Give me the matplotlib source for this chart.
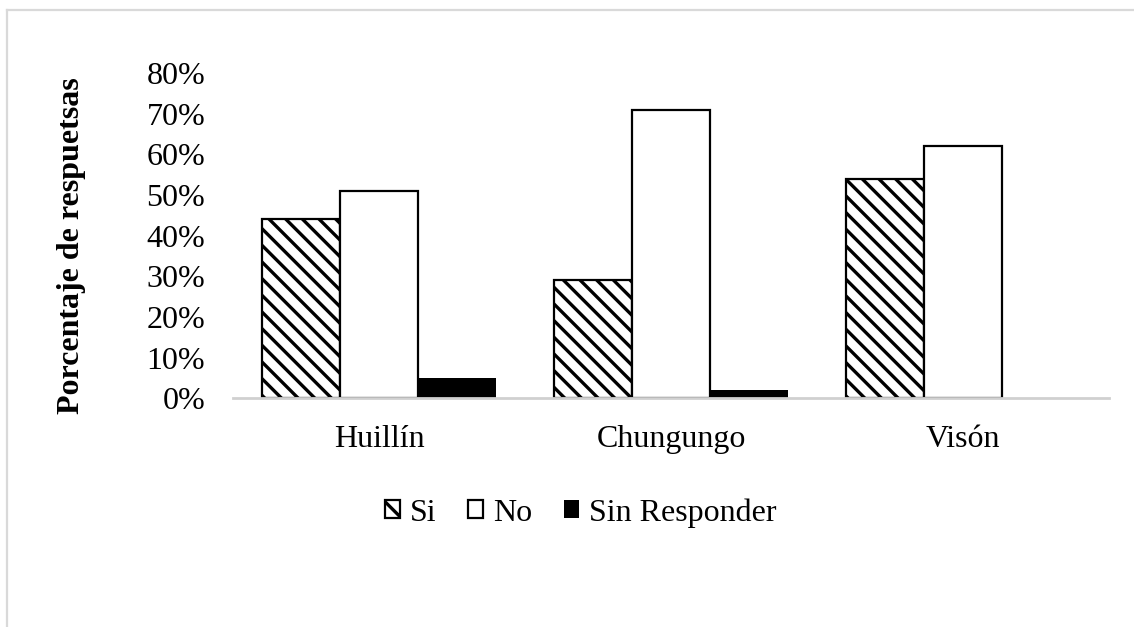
import numpy as np
import matplotlib.pyplot as plt
from matplotlib.lines import Line2D
from matplotlib.ticker import PercentFormatter

categories = ["Huillín", "Chungungo", "Visón"]
si = [44, 29, 54]
no = [51, 71, 62]
sin_responder = [5, 2, 0]
series_names = ["Si", "No", "Sin Responder"]
y_ticks = [0, 10, 20, 30, 40, 50, 60, 70, 80]


def main():
    plt.rcParams['font.family'] = ['Liberation Serif', 'DejaVu Serif']
    plt.rcParams['hatch.linewidth'] = 2.4
    plt.rcParams['hatch.color'] = '#3a3a3a'

    fig = plt.figure(figsize=(11.34, 6.27), dpi=100)
    ax = fig.add_axes([0.2055, 0.365, 0.7725, 0.5185])

    x = np.arange(len(categories))
    w = 0.267

    # three series side by side
    ax.bar(x - w, si, w, color='white', edgecolor='black', linewidth=1.6,
           hatch='\\' * 2, label=series_names[0])
    ax.bar(x, no, w, color='white', edgecolor='black', linewidth=1.6,
           label=series_names[1])
    ax.bar(x + w, sin_responder, w, color='black', edgecolor='black', linewidth=0,
           label=series_names[2])

    ax.set_xlim(-0.5, len(categories) - 0.5)
    ax.set_ylim(0, 80)
    ax.set_yticks(y_ticks)
    ax.yaxis.set_major_formatter(PercentFormatter(decimals=0))
    ax.set_xticks(x)
    ax.set_xticklabels(categories)
    ax.tick_params(axis='both', length=0, labelsize=23)
    ax.tick_params(axis='x', pad=19)
    ax.tick_params(axis='y', pad=20)

    for side in ['top', 'right', 'left']:
        ax.spines[side].set_visible(False)
    ax.spines['bottom'].set_color('#d0d0d0')
    ax.spines['bottom'].set_linewidth(2)

    ax.set_ylabel("Porcentaje de respuetsas", fontsize=23, fontweight='bold',
                  va='center')
    ax.yaxis.set_label_coords(-0.184, 0.47)

    fig.legend(loc='center', bbox_to_anchor=(0.512, 0.182), ncol=3, frameon=False,
               fontsize=23, handlelength=0.47, handleheight=0.47,
               handletextpad=0.3, columnspacing=1.0)

    # outer chart border (light gray), only top and left visible
    fig.add_artist(Line2D([7 / 1134, 7 / 1134], [0, 1 - 10 / 627],
                          transform=fig.transFigure, color='#d9d9d9', lw=1.6))
    fig.add_artist(Line2D([7 / 1134, 1], [1 - 10 / 627, 1 - 10 / 627],
                          transform=fig.transFigure, color='#d9d9d9', lw=1.6))

    fig.savefig("out.png", dpi=100)


if __name__ == "__main__":
    main()
